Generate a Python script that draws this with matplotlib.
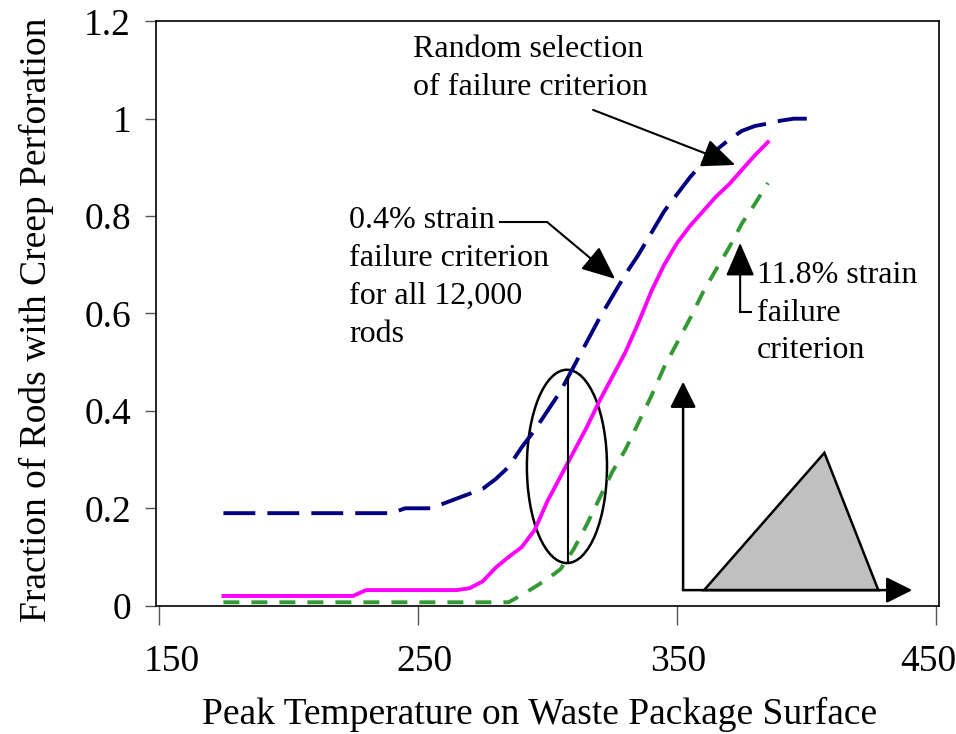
import numpy as np
import matplotlib
matplotlib.use("Agg")
import matplotlib.pyplot as plt
import matplotlib.transforms as mtransforms
from matplotlib.patches import Ellipse
from matplotlib.ticker import FormatStrFormatter

plt.rcParams['font.family'] = ['Liberation Serif', 'DejaVu Serif']

# Пиковая температура (ось X)
temp_random = [175, 180, 185, 190, 195, 200, 205, 210, 215, 220, 225, 230, 235, 240,
               245, 250, 255, 260, 265, 270, 275, 280, 285, 290, 295, 300, 305, 310,
               315, 320, 325, 330, 335, 340, 345, 350, 355, 360, 365, 370, 375, 380,
               385, 390, 395, 400]
temp_strain = [175, 180, 185, 190, 195, 200, 205, 210, 215, 220, 225, 230, 235, 240,
               245, 250, 255, 260, 265, 270, 275, 280, 285, 290, 295, 300, 305, 310,
               315, 320, 325, 330, 335, 340, 345, 350, 355, 360, 365, 370, 375, 380,
               385]

# Доля стержней с перфорацией
frac_04 = [0.19, 0.19, 0.19, 0.19, 0.19, 0.19, 0.19, 0.19, 0.19, 0.19, 0.19, 0.19, 0.19, 0.19,
           0.20, 0.20, 0.20, 0.21, 0.22, 0.23, 0.24, 0.26, 0.285, 0.325, 0.36, 0.40, 0.44, 0.49,
           0.54, 0.59, 0.635, 0.68, 0.72, 0.765, 0.81, 0.845, 0.88, 0.91, 0.935, 0.957, 0.975, 0.985,
           0.99, 0.996, 1.0, 1.0]
frac_random = [0.02, 0.02, 0.02, 0.02, 0.02, 0.02, 0.02, 0.02, 0.02, 0.02, 0.02,
               0.032, 0.032, 0.032, 0.032, 0.032, 0.032, 0.032, 0.032,
               0.036, 0.05, 0.078, 0.10, 0.12, 0.155, 0.215, 0.265, 0.315, 0.365, 0.42,
               0.47, 0.52, 0.58, 0.645, 0.70, 0.745, 0.78, 0.81, 0.84, 0.865, 0.895, 0.925, 0.952]
frac_118 = [0.007, 0.007, 0.007, 0.007, 0.007, 0.007, 0.007, 0.007, 0.007, 0.007, 0.007, 0.007,
            0.007, 0.007, 0.007, 0.007, 0.007, 0.007, 0.007, 0.007, 0.007, 0.007, 0.007,
            0.022, 0.038, 0.055, 0.075, 0.115, 0.165, 0.22, 0.275, 0.32, 0.375, 0.43,
            0.49, 0.54, 0.59, 0.644, 0.69, 0.735, 0.785, 0.825, 0.868]

x_ticks = [150, 250, 350, 450]
y_ticks = [0, 0.2, 0.4, 0.6, 0.8, 1.0, 1.2]

# Схема распределения критерия (треугольник) и оси схемы
tri_x = [360.4, 406.8, 427.6]
tri_y = [0.032, 0.314, 0.032]
inset_origin = (352.3, 0.032)
inset_x_end = 440.7
inset_y_end = 0.46

# Выделение разброса при ~308 градусах
spread_x = 307.9
spread_lo = 0.09
spread_hi = 0.467

fig = plt.figure(figsize=(9.56, 7.34), dpi=100)
ax = fig.add_axes([0.1632, 0.1748, 0.8190, 0.7962])

ax.plot(temp_random, frac_04, color='#000080', lw=2.8, dashes=(8.2, 3.1))
ax.plot(temp_strain, frac_random, color='#FF00FF', lw=2.8)
ax.plot(temp_strain, frac_118, color='#339933', lw=2.8, dashes=(4.1, 3.1))

ax.set_xlim(149, 451)
ax.set_ylim(0, 1.2)
ax.set_xticks(x_ticks)
ax.set_yticks(y_ticks)
ax.yaxis.set_major_formatter(FormatStrFormatter('%g'))
ax.tick_params(axis='x', direction='out', length=14, width=1, color='#555555',
               labelsize=27, pad=14)
ax.tick_params(axis='y', direction='out', length=8, width=1, color='#555555',
               labelsize=27, pad=10)
for s in ax.spines.values():
    s.set_linewidth(1.2)

# небольшой сдвиг подписей оси X (в пикселях)
shifts = [13, 7, 1, -8]
for lab, dx in zip(ax.get_xticklabels(), shifts):
    off = mtransforms.ScaledTranslation(dx / 100, 0, fig.dpi_scale_trans)
    lab.set_transform(lab.get_transform() + off)

ax.set_xlabel('Peak Temperature on Waste Package Surface', fontsize=27)
ax.set_ylabel('Fraction of Rods with Creep Perforation', fontsize=27)
ax.xaxis.set_label_coords(0.49, -0.156)
ax.yaxis.set_label_coords(-0.13, 0.49)

# Эллипс и вертикальная линия
ell = Ellipse((307.5, 0.286), 30.9, 0.397, fill=False, edgecolor='black', lw=1.8)
ax.add_patch(ell)
ax.plot([spread_x, spread_x], [spread_lo, spread_hi], color='black', lw=1.5)

# Схема распределения
ax.fill(tri_x, tri_y, facecolor='#C0C0C0', edgecolor='black', lw=1.8)
arrow_kw = dict(arrowstyle='-|>', mutation_scale=40, color='black', lw=1.8,
                shrinkA=0, shrinkB=0)
ax.annotate('', xy=(inset_origin[0], inset_y_end), xytext=inset_origin, arrowprops=arrow_kw)
ax.annotate('', xy=(inset_x_end, inset_origin[1]), xytext=inset_origin, arrowprops=arrow_kw)

# Подписи кривых
note_kw = dict(arrowstyle='-|>,head_length=0.65,head_width=0.28', mutation_scale=32,
               color='black', lw=1.5, shrinkA=0, shrinkB=0)
ax.text(248.1, 1.103, 'Random selection\nof failure criterion', fontsize=23,
        ha='left', va='center', linespacing=1.4)
ax.annotate('', xy=(372.4, 0.905), xytext=(317.6, 1.018), arrowprops=note_kw)

ax.text(223.4, 0.674, '0.4% strain\nfailure criterion\nfor all 12,000\nrods', fontsize=23,
        ha='left', va='center', linespacing=1.4)
ax.plot([281.7, 299.8], [0.788, 0.788], color='black', lw=1.5)
ax.annotate('', xy=(326.1, 0.671), xytext=(299.8, 0.788), arrowprops=note_kw)

ax.text(380.9, 0.601, '11.8% strain\nfailure\ncriterion', fontsize=23,
        ha='left', va='center', linespacing=1.4)
ax.plot([374.3, 378.5], [0.603, 0.603], color='black', lw=1.5)
ax.annotate('', xy=(374.3, 0.745), xytext=(374.3, 0.603), arrowprops=note_kw)

fig.savefig('out.png', dpi=100)
